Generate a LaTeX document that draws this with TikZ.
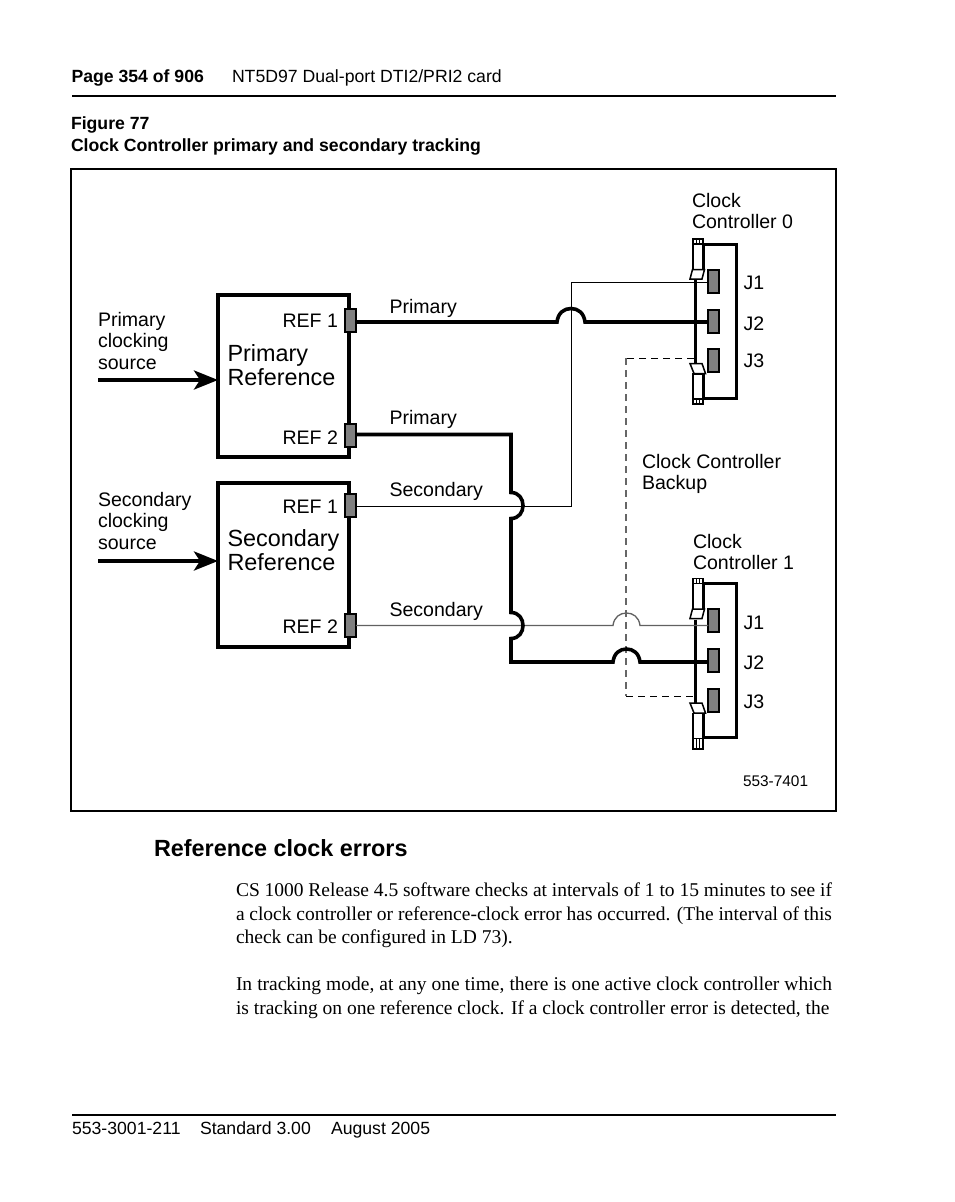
\documentclass[tikz,border=0pt]{standalone}
\usepackage{fontspec}
\setmainfont{Liberation Sans}
\newfontfamily\bodyserif{Liberation Serif}
\usetikzlibrary{arrows.meta}
\newcommand{\fpx}[2]{\fontsize{#1pt}{#2pt}\selectfont}
\tikzset{
  lab/.style={inner sep=0pt,outer sep=0pt,anchor=base west,font=\fpx{19.55}{21.6}},
  mlab/.style={lab,anchor=north west,align=left},
  big/.style={mlab,font=\fpx{23.4}{24}},
  hdr/.style={lab,font=\fpx{17.65}{22}},
  hdrb/.style={lab,font=\bfseries\fpx{17.65}{22}},
  body/.style={inner sep=0pt,outer sep=0pt,anchor=north west,text width=596pt,align=justify,font=\bodyserif\fpx{19.5}{23.6}},
  refbox/.style={draw,line width=3.6pt,fill=white,inner sep=0pt,outer sep=0pt,minimum width=131pt},
  port/.style={draw,line width=2pt,fill=black!50,inner sep=0pt,outer sep=0pt,minimum width=10.5pt,minimum height=23pt},
  thickw/.style={line width=3.6pt},
  thinw/.style={line width=1pt},
  grayw/.style={line width=1.3pt,black!62},
  dashw/.style={line width=0.9pt,dash pattern=on 7pt off 5pt},
  feed/.style={line width=4pt,-{Stealth[length=24pt,width=19pt,inset=6pt]}},
  latch/.style={draw,line width=1.5pt,fill=white},
  sleeve/.style={draw,line width=1.4pt,fill=white},
  shell/.style={line width=3pt},
}
% #1 name prefix, #2 y offset, #3 bottom of lower tabs
\newcommand{\ctrlunit}[3]{%
  \begin{scope}[yshift=-#2pt]
    \draw[shell] (703,270) -- (703,244) -- (736,244) -- (736,398) -- (703,398) -- (703,374);
    \draw[line width=3pt] (695,280) -- (695,364);
    \draw[sleeve] (693,239) rectangle (703,244);
    \draw[line width=1.4pt] (696.5,239) -- (696.5,244) (699.5,239) -- (699.5,244);
    \draw[sleeve] (693,244) rectangle (703,270);
    \draw[line width=3pt] (703,243) -- (703,270);
    \draw[latch] (690,279) -- (692.5,269.5) -- (704.5,269.5) -- (702,279) -- cycle;
    \draw[sleeve] (693,374) rectangle (703,399);
    \draw[line width=3pt] (703,374) -- (703,399);
    \draw[latch] (690,363.5) -- (702,363.5) -- (705.5,373.5) -- (694,373.5) -- cycle;
    \node[port] (#1j1) at (713.5,281) {};
    \node[port] (#1j2) at (713.5,321) {};
    \node[port] (#1j3) at (713.5,360.5) {};
  \end{scope}
  \draw[sleeve] (693,399+#2) rectangle (703,#3);
  \draw[line width=1.4pt] (696.5,399+#2) -- (696.5,#3) (699.5,399+#2) -- (699.5,#3);
}
\begin{document}
\begin{tikzpicture}[x=1pt,y=-1pt]
\useasboundingbox[fill=white] (0,0) rectangle (954,1202);

% page furniture
\node[hdrb] (pg) at (71.5,82) {Page 354 of 906};
\node[hdr] (doc) at (232,82) {NT5D97 Dual-port DTI2/PRI2 card};
\coordinate (ruleA) at (72,96); \coordinate (ruleB) at (836,96);
\draw[line width=2pt] (ruleA) -- (ruleB);
\node[hdrb] (fig) at (71,129) {Figure 77};
\node[hdrb] (cap) at (71,151) {Clock Controller primary and secondary tracking};
\node[draw,line width=1.6pt,inner sep=0pt,minimum width=765pt,minimum height=642pt] (frame) at (453.5,490) {};

% reference boxes
\node[refbox,minimum height=162pt] (prim) at (283.5,376) {};
\node[refbox,minimum height=164pt] (sec) at (283.5,565) {};
\node[port] (p1) at (350.5,320.5) {};
\node[port] (p2) at (350.5,435) {};
\node[port] (s1) at (350.5,505) {};
\node[port] (s2) at (350.5,625) {};

% controllers
\ctrlunit{a}{0}{404}
\ctrlunit{b}{339.5}{749}

% feeds
\coordinate (fa) at (98,380);
\coordinate (fb) at (98,561);
\draw[feed] (fa) -- (fa -| prim.west);
\draw[feed] (fb) -- (fb -| sec.west);

% thin wires
\coordinate (s1a) at (571.5,506.5);
\coordinate (s1b) at (571.5,282);
\draw[thinw] (s1.east |- s1a) -- (s1a) -- (s1b) -- (s1b -| aj1.west);
\coordinate (s2a) at (613,625.5);
\coordinate (s2b) at (640,625.5);
\draw[grayw] (s2.east |- s2a) -- (s2a) .. controls (614,617) and (620,613) .. (626.5,613) .. controls (633,613) and (639,617) .. (s2b) -- (s2b -| bj1.west);

% backup
\coordinate (da) at (626,358);
\coordinate (db) at (626,696);
\coordinate (dc) at (694,358);
\coordinate (dd) at (694,696);
\draw[dashw] (dc) -- (da);
\draw[dashw,black!60,line width=1.1pt] (da) -- (db);
\draw[dashw] (db) -- (dd);

% thick wires
\coordinate (h1a) at (557,322);
\coordinate (h1b) at (585,322);
\draw[thickw] (p1.east |- h1a) -- (h1a) .. controls (558,313) and (564,308.5) .. (571,308.5) .. controls (578,308.5) and (584,313) .. (h1b) -- (h1b -| aj2.west);
\coordinate (v0) at (511,434.5);
\coordinate (v1) at (511,492.5);
\coordinate (v2) at (511,518.5);
\coordinate (v3) at (511,612.5);
\coordinate (v4) at (511,638.5);
\coordinate (v5) at (511,662);
\coordinate (h2a) at (613,662);
\coordinate (h2b) at (640,662);
\draw[thickw,line join=miter] (p2.east |- v0) -- (v0) -- (v1)
  .. controls (519,492.5) and (523,499) .. (523,505.5) .. controls (523,512) and (519,518.5) .. (v2)
  -- (v3)
  .. controls (519,612.5) and (523,619) .. (523,625.5) .. controls (523,632) and (519,638.5) .. (v4)
  -- (v5) -- (h2a)
  .. controls (614,653) and (620,649) .. (626.5,649) .. controls (633,649) and (639,653) .. (h2b)
  -- (h2b -| bj2.west);

% labels
\node[mlab] (l1) at (98,312) {Primary\\clocking\\source};
\node[mlab] (l2) at (98,492) {Secondary\\clocking\\source};
\node[big] (l3) at (227.5,345) {Primary\\Reference};
\node[big] (l4) at (227.5,529.5) {Secondary\\Reference};
\node[lab] (r1) at (282.5,327) {REF 1};
\node[lab] (r2) at (282.5,444) {REF 2};
\node[lab] (r3) at (282.5,513) {REF 1};
\node[lab] (r4) at (282.5,633) {REF 2};
\node[lab] (w1) at (389.5,313) {Primary};
\node[lab] (w2) at (389.5,424) {Primary};
\node[lab] (w3) at (389.5,496) {Secondary};
\node[lab] (w4) at (389.5,616) {Secondary};
\node[mlab] (c0) at (692,193) {Clock\\Controller 0};
\node[mlab] (c1) at (693,534) {Clock\\Controller 1};
\node[mlab] (bk) at (642,454) {Clock Controller\\Backup};
\node[lab] (ja1) at (743.5,289) {J1};
\node[lab] (ja2) at (743.5,330) {J2};
\node[lab] (ja3) at (743.5,367) {J3};
\node[lab] (jb1) at (743.5,629) {J1};
\node[lab] (jb2) at (743.5,669) {J2};
\node[lab] (jb3) at (743.5,708) {J3};
\node[lab,font=\fpx{15.4}{18}] (code) at (743,786) {553-7401};

% text below
\node[lab,font=\bfseries\fpx{23.4}{26}] (hd) at (154,856) {Reference clock errors};
\node[body] (pa) at (236,883) {CS 1000 Release 4.5 software checks at intervals of 1 to 15 minutes to see if\linebreak a clock controller or reference-clock error has occurred. (The interval of this\linebreak check can be configured in LD 73).};
\node[body] (pb) at (236,977) {In tracking mode, at any one time, there is one active clock controller which\linebreak is tracking on one reference clock. If a clock controller error is detected, the};
\coordinate (ruleC) at (72,1115); \coordinate (ruleD) at (836,1115);
\draw[line width=2pt] (ruleC) -- (ruleD);
\node[hdr] (f1) at (72,1134) {553-3001-211};
\node[hdr] (f2) at (200,1134) {Standard 3.00};
\node[hdr] (f3) at (331,1134) {August 2005};
\end{tikzpicture}
\end{document}
